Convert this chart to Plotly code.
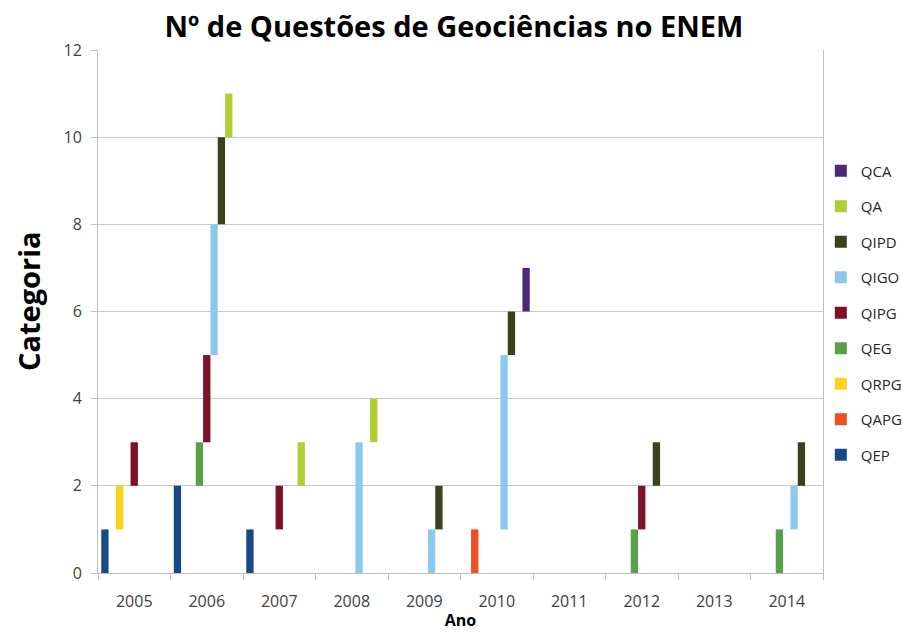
import plotly.graph_objects as go

years = ["2005", "2006", "2007", "2008", "2009", "2010", "2011", "2012", "2013", "2014"]

# values per series (stack order bottom -> top)
QEP  = [1, 2, 1, 0, 0, 0, 0, 0, 0, 0]
QAPG = [0, 0, 0, 0, 0, 1, 0, 0, 0, 0]
QRPG = [1, 0, 0, 0, 0, 0, 0, 0, 0, 0]
QEG  = [0, 1, 0, 0, 0, 0, 0, 1, 0, 1]
QIPG = [1, 2, 1, 0, 0, 0, 0, 1, 0, 0]
QIGO = [0, 3, 0, 3, 1, 4, 0, 0, 0, 1]
QIPD = [0, 2, 0, 0, 1, 1, 0, 1, 0, 1]
QA   = [0, 1, 1, 1, 0, 0, 0, 0, 0, 0]
QCA  = [0, 0, 0, 0, 0, 1, 0, 0, 0, 0]

series = [
    ("QEP", QEP, "#174A87"),
    ("QAPG", QAPG, "#F04E23"),
    ("QRPG", QRPG, "#FFD21A"),
    ("QEG", QEG, "#56A14A"),
    ("QIPG", QIPG, "#7C1128"),
    ("QIGO", QIGO, "#8DC9EE"),
    ("QIPD", QIPD, "#38431E"),
    ("QA", QA, "#AECF34"),
    ("QCA", QCA, "#4E2A75"),
]

fig = go.Figure()
cum = [0] * len(years)
for i, (name, vals, color) in enumerate(series):
    y = [v if v else None for v in vals]
    base = [c if v else None for c, v in zip(cum, vals)]
    fig.add_trace(go.Bar(
        x=years, y=y, base=base, name=name, legendgroup=name,
        legendrank=100 - i,
        marker=dict(color=color, line=dict(width=0)),
    ))
    cum = [c + v for c, v in zip(cum, vals)]

fig.update_layout(
    width=903, height=632,
    paper_bgcolor="white", plot_bgcolor="white",
    margin=dict(l=98, r=80, t=50, b=59, autoexpand=False),
    barmode="group", bargap=0.09, bargroupgap=0.0,
    title=dict(text="<b>Nº de Questões de Geociências no ENEM</b>",
               x=0.491, xref="paper", xanchor="center", y=0.958, yanchor="middle",
               font=dict(family="Open Sans", size=29, color="black")),
    legend=dict(x=0.997, xanchor="left", y=0.497, yanchor="middle",
                traceorder="grouped", tracegroupgap=13,
                bgcolor="rgba(0,0,0,0)",
                font=dict(family="Open Sans", size=15, color="#262626"),
                itemwidth=30),
    showlegend=True,
    annotations=[dict(
        text="<b>Categoria</b>", textangle=-90, showarrow=False,
        xref="paper", yref="paper", x=0, xanchor="center", xshift=-70,
        y=0.52, yanchor="middle",
        font=dict(family="Open Sans", size=29, color="black"),
    )],
)
fig.update_xaxes(
    type="category", tickson="boundaries", showgrid=False,
    showline=True, linecolor="#BFBFBF", linewidth=1,
    ticks="outside", ticklen=6, tickcolor="#BFBFBF",
    ticklabelstandoff=14,
    tickfont=dict(family="Open Sans", size=16, color="#404040"),
    title=dict(text="<b>Ano</b>", font=dict(family="Open Sans", size=16, color="black"), standoff=3),
)
fig.update_yaxes(
    range=[0, 12], dtick=2, showgrid=True, gridcolor="#C8C8C8", gridwidth=1,
    showline=True, linecolor="#BFBFBF", linewidth=1, mirror=True,
    ticks="outside", ticklen=6, tickcolor="#BFBFBF",
    ticklabelstandoff=6,
    tickfont=dict(family="Open Sans", size=16, color="#404040"),
    zeroline=False,
)

fig.write_html("out.html", config={"displayModeBar": False},
               post_script="document.body.style.margin='0';")
